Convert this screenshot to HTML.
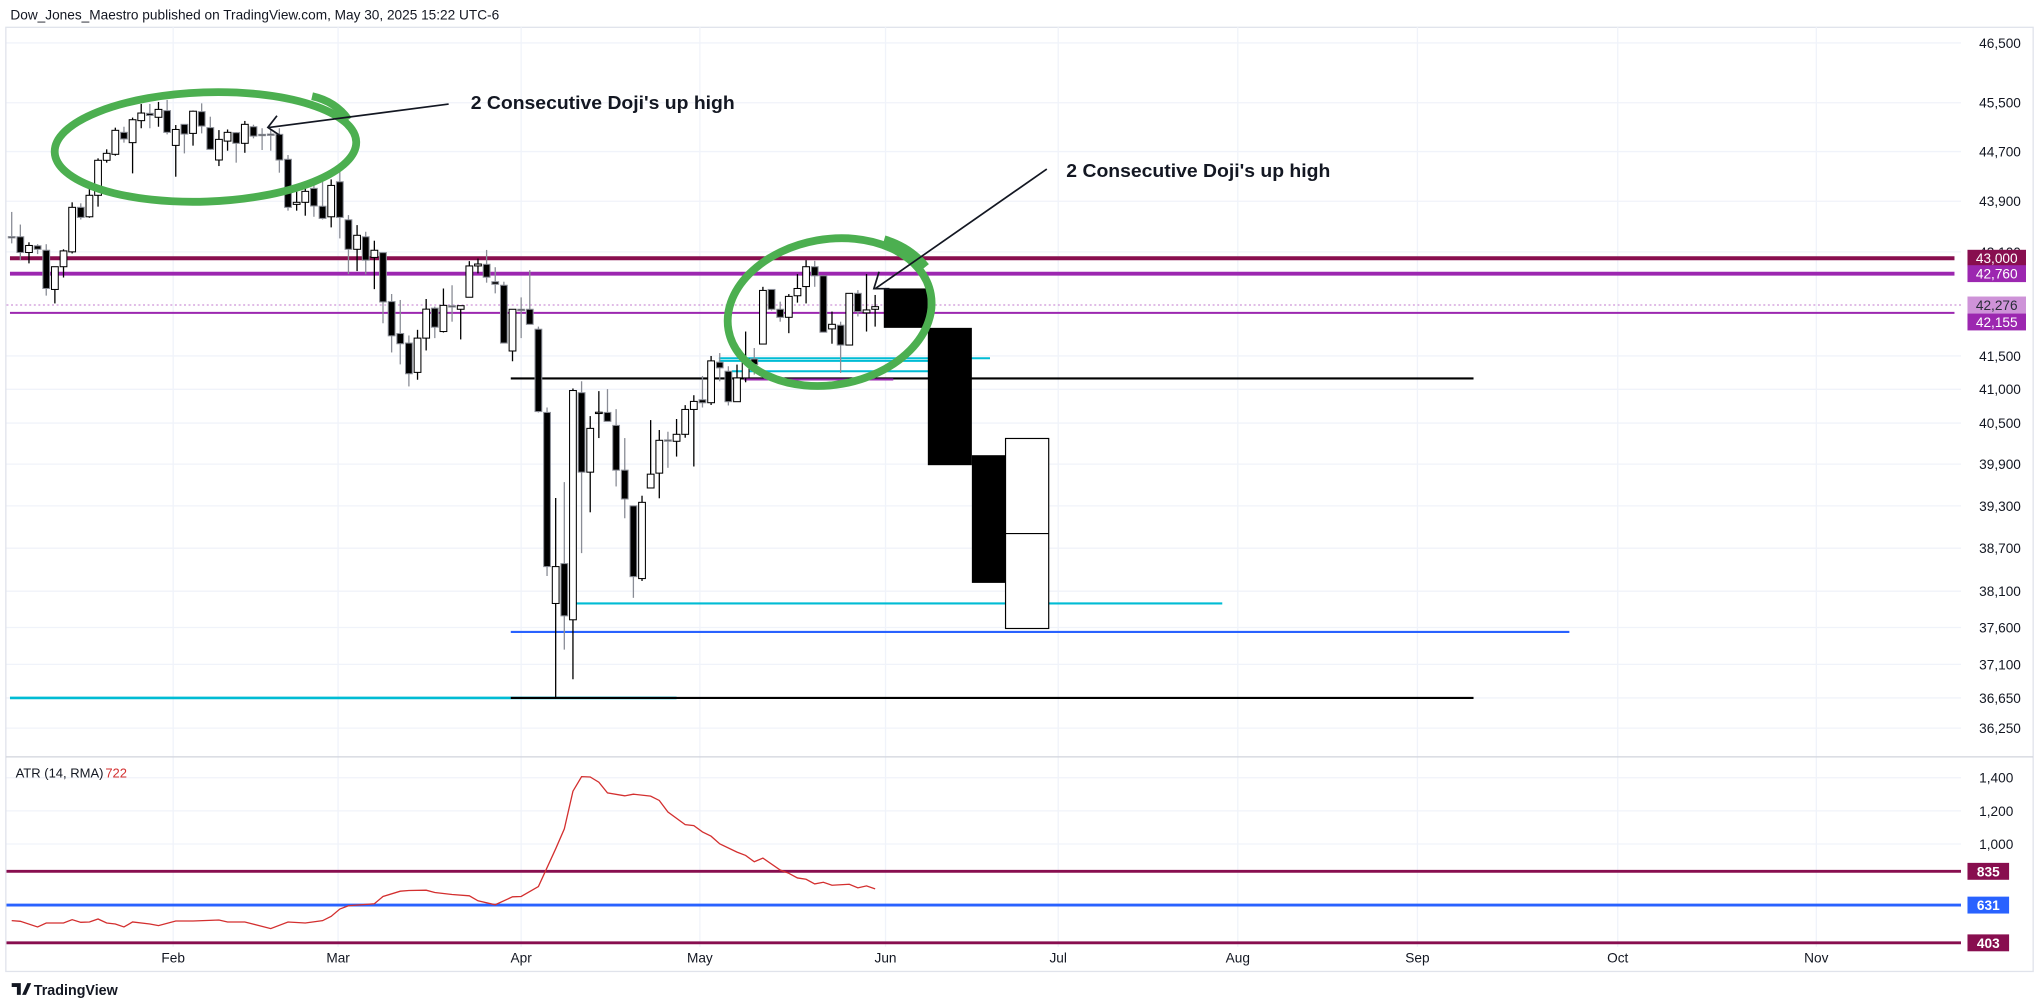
<!DOCTYPE html>
<html><head><meta charset="utf-8"><style>
html,body{margin:0;padding:0;background:#fff;}
svg{display:block;font-family:"Liberation Sans",sans-serif;}
</style></head><body>
<svg id="chart" width="2039" height="1008" viewBox="0 0 1568 775.1" preserveAspectRatio="none" xmlns="http://www.w3.org/2000/svg">
<text x="8" y="15" font-size="10.5" fill="#131722">Dow_Jones_Maestro published on TradingView.com, May 30, 2025 15:22 UTC-6</text>
<rect x="4.5" y="21" width="1559" height="726" fill="none" stroke="#e0e3eb" stroke-width="1"/>
<g id="grid"></g>
<g id="levels"></g>
<g id="candles"></g>
<g id="proj"></g>
<g id="atr"></g>
<g id="axes"></g>
<g fill="none">
<ellipse cx="158" cy="113" rx="116" ry="42" transform="rotate(-2 158 113)" stroke="#4caf50" stroke-width="6"/>
<path d="M240 74 Q258 78 268 92" stroke="#4caf50" stroke-width="6"/>
<ellipse cx="638" cy="240" rx="79" ry="56" transform="rotate(-10 638 240)" stroke="#4caf50" stroke-width="6"/>
<path d="M680 184 Q700 190 712 205" stroke="#4caf50" stroke-width="6"/>
<line x1="345" y1="80" x2="207" y2="98" stroke="#131722" stroke-width="1.3"/>
<path d="M213 89 L206 98 L215 104" stroke="#131722" stroke-width="1.3"/>
<line x1="805" y1="130" x2="673" y2="222" stroke="#131722" stroke-width="1.3"/>
<path d="M676 209 L672 222 L684 222" stroke="#131722" stroke-width="1.3"/>
</g>
<text x="362" y="84" font-size="14.5" font-weight="bold" fill="#131722" textLength="203" lengthAdjust="spacingAndGlyphs">2 Consecutive Doji's up high</text>
<text x="820" y="136" font-size="14.5" font-weight="bold" fill="#131722" textLength="203" lengthAdjust="spacingAndGlyphs">2 Consecutive Doji's up high</text>
<g>
<path d="M9 756 h7 v9 h-3 v-6 h-4z M17 765 l4 -9 h3 l-4 9z" fill="#131722"/>
<text x="26" y="765" font-size="11" font-weight="bold" fill="#131722">TradingView</text>
</g>
</svg>
<script>
const opens=[43340,43337,43090,43195,43125,42515,42868,43100,43803,43653,43995,44558,44655,45013,44845,45205,45325,45260,45370,44800,45144,44996,45353,45090,44563,44870,45008,44834,45105,44980,44985,44980,44574,43850,43883,44106,43820,43653,44212,43605,43140,43337,43013,43088,42328,41840,41695,41253,41770,42227,41870,42265,42210,42395,42880,42905,42635,42580,41575,42210,42210,41905,40657,37930,38484,37706,40950,39784,40655,40657,40466,39813,39300,38275,39556,39770,40253,40233,40335,40701,40845,40801,41406,41270,40816,41170,41455,41680,42515,42210,42087,42418,42560,42868,42727,41910,41966,41665,42455,42155,42210];
const highs=[43730,43530,43250,43220,43220,42868,43140,43883,43867,44186,44590,44736,45090,45105,45255,45480,45480,45513,45546,45133,45144,45370,45490,45270,45050,45060,45018,45200,45138,45080,45060,45080,44644,44132,44160,44250,44280,44250,44455,43680,43521,43416,43275,43088,42445,42353,41810,41896,42368,42252,42530,42580,42265,42955,42995,43130,42860,42635,42210,42393,42815,41945,40730,39412,39640,41012,41120,40603,40973,41003,40706,40280,39300,39445,40544,40398,40373,40560,40765,40912,41200,41500,41544,41345,41370,41870,41620,42556,42515,42327,42444,42753,42970,42960,42727,42175,42020,42455,42505,42753,42430];
const lows=[43233,42970,42920,43065,42420,42300,42700,43075,43610,43637,43814,44520,44633,44845,44347,45080,45080,45105,44980,44293,44670,44796,44996,44725,44465,44714,44520,44680,44915,44725,44714,44358,43750,43750,43670,43653,43610,43485,43311,42754,42800,42750,42520,41996,41553,41373,41043,41143,41583,41770,41855,42020,41750,42395,42765,42620,42455,41695,41420,41770,41980,40655,38310,36663,37300,36900,38631,39208,40280,40525,39578,39123,38008,38242,39556,39408,39847,40010,40285,39866,40730,40767,41120,40760,40816,41105,41220,41680,42190,42020,41845,42312,42300,42556,41860,41685,41245,41665,42100,41870,41945];
const closes=[43330,43090,43200,43140,42530,42868,43115,43803,43643,43995,44558,44671,45046,44905,45220,45330,45290,45390,45013,45060,44985,45360,45116,44736,44898,45013,44834,45144,44952,44975,44980,44563,43803,43883,44058,43825,43627,44153,43643,43140,43360,42970,43125,42323,41805,41685,41233,41770,42212,41936,42270,42260,42265,42880,42910,42705,42595,41695,42210,42205,41980,40670,38442,38442,37760,40982,39784,40422,40660,40525,39813,39398,38302,39350,39755,40247,40248,40335,40701,40820,40800,41426,41321,40816,41170,41455,41370,42500,42210,42087,42408,42530,42868,42727,41860,41980,41665,42455,42175,42200,42250];
const priceTicks=[46500,45500,44700,43900,43100,41500,41000,40500,39900,39300,38700,38100,37600,37100,36650,36250];
const priceTickLabels=["46,500","45,500","44,700","43,900","43,100","41,500","41,000","40,500","39,900","39,300","38,700","38,100","37,600","37,100","36,650","36,250"];
const monthLabels=["Feb","Mar","Apr","May","Jun","Jul","Aug","Sep","Oct","Nov"];
const monthBars=[18.7,37.8,59.0,79.7,101.2,121.2,142.0,162.8,186.0,209.0];
const projStart=[101.0,106.1,111.2,115.1];
const projEnd=[106.1,111.2,115.1,120.1];
const projTop=[42531,41926,40030,40274];
const projBottom=[41926,39885,38215,37587];
const projMid=[null,null,null,38906];
const projFill=["#000","#000","#000","#fff"];
const levelPrices=[43000,42760,42155,41162,36650,36650,37540,37931,41465,41426,41270,41146];
const levelFrom=[-0.2,-0.2,-0.2,57.8,-0.2,57.8,57.8,65.4,81.9,81.9,83.4,84.8];
const levelTo=[225,225,225,169.3,77,169.3,180.4,140.2,113.3,106.2,106.2,102.1];
const levelColors=["#880e4f","#9c27b0","#9c27b0","#000","#00bcd4","#000","#2962ff","#00bcd4","#00bcd4","#00bcd4","#00bcd4","#9c27b0"];
const levelWidths=[3,3,1.6,1.6,2,1.6,1.6,1.6,1.5,1.5,1.5,1.5];
const priceLabels=["43,000","42,760","42,276","42,155"];
const priceLabelValues=[43000,42760,42276,42155];
const priceLabelColors=["#880e4f","#9c27b0","#ce93d8","#9c27b0"];
const priceLabelShift=[0,0,0,7];
const lastPrice=42276;
const atrBars=[0,1,3,4,6,7,8,9,10,11,12,13,14,16,17,19,21,24,25,27,30,32,34,36,37,38,39,42,43,45,46,48,49,51,53,54,56,58,59,61,63,64,65,66,67,68,69,71,72,74,75,76,78,79,80,81,82,84,85,86,87,89,90,91,92,93,94,95,97,98,99,100];
const atrValues=[537,533,499,523,523,543,527,529,547,523,517,499,529,517,507,535,535,541,529,529,489,529,523,537,563,607,627,639,683,715,719,721,707,695,687,657,633,681,683,743,971,1091,1319,1407,1405,1373,1309,1291,1301,1289,1263,1193,1117,1111,1073,1047,1001,951,931,893,915,843,823,795,787,759,769,751,757,735,747,729];
const atrTicks=[1400,1200,1000];
const atrLevels=[835,631,403];
const atrLevelColors=["#880e4f","#2962ff","#880e4f"];

const NS="http://www.w3.org/2000/svg";
const X0=9,BAR=6.64,PLOT_R=1508;
function xOf(i){return X0+i*BAR;}
function yOf(p){return 33+2116*Math.log(46500/p);}
function yAtr(v){return 670-(v-835)*0.1273;}
function mk(tag,attrs,parent){const e=document.createElementNS(NS,tag);for(const k in attrs)e.setAttribute(k,attrs[k]);parent.appendChild(e);return e;}
const grid=document.getElementById('grid'),levels=document.getElementById('levels'),cg=document.getElementById('candles'),pg=document.getElementById('proj'),ag=document.getElementById('atr'),axes=document.getElementById('axes');

priceTicks.forEach((p,i)=>{
  const y=yOf(p);
  const l=mk('line',{x1:5,x2:PLOT_R,y1:y,y2:y,stroke:'#f0f3fa','stroke-width':1},grid);
  
  
  const t=mk('text',{x:1522,y:y+3.8,'font-size':10.5,fill:'#131722'},axes);
  t.textContent=priceTickLabels[i];
  
  
});
atrTicks.forEach(v=>{
  const y=yAtr(v);
  const l=mk('line',{x1:5,x2:PLOT_R,y1:y,y2:y,stroke:'#f0f3fa','stroke-width':1},grid);
  
  
  const t=mk('text',{x:1522,y:y+3.8,'font-size':10.5,fill:'#131722'},axes);
  t.textContent=v.toLocaleString('en-US');
  
  
});
monthBars.forEach((b,i)=>{
  const x=xOf(b);
  const l=mk('line',{x1:x,x2:x,y1:21,y2:728,stroke:'#f0f3fa','stroke-width':1},grid);
  
  
  const t=mk('text',{x:x,y:740,'font-size':10.5,fill:'#131722','text-anchor':'middle'},axes);
  t.textContent=monthLabels[i];
  
  
});
const sep=mk('line',{x1:4.5,x2:1563.5,y1:582,y2:582,stroke:'#d1d4dc','stroke-width':1},axes);



const dl=mk('line',{x1:5,x2:PLOT_R,y1:yOf(lastPrice),y2:yOf(lastPrice),stroke:'#ce93d8','stroke-width':1,'stroke-dasharray':'1.5 2'},levels);


levelPrices.forEach((p,i)=>{
  const y=yOf(p);
  const l=mk('line',{x1:Math.max(5,xOf(levelFrom[i])),x2:Math.min(PLOT_R,xOf(levelTo[i])),y1:y,y2:y,stroke:levelColors[i],'stroke-width':levelWidths[i]},levels);
  
  
});

opens.forEach((o,i)=>{
  const c=closes[i],h=highs[i],lo=lows[i],x=xOf(i),up=c>=o;
  const wc=up?'#000':'#8a8d96';
  const w=mk('line',{x1:x,x2:x,y1:yOf(h),y2:yOf(lo),stroke:wc,'stroke-width':1},cg);
  
  
  const top=yOf(Math.max(o,c)),bot=yOf(Math.min(o,c));
  const r=mk('rect',{x:x-2.6,y:top,width:5.2,height:Math.max(1,bot-top),fill:up?'#fff':'#000',stroke:up?'#000':'#8a8d96','stroke-width':0.8},cg);
  
  
});

projStart.forEach((s,i)=>{
  const x1=xOf(s),x2=xOf(projEnd[i]),y1=yOf(projTop[i]),y2=yOf(projBottom[i]);
  const r=mk('rect',{x:x1,y:y1,width:x2-x1,height:y2-y1,fill:projFill[i],stroke:'#000','stroke-width':projFill[i]==='#fff'?0.9:0},pg);
  
  
  if(projMid[i]!==null){
    const m=mk('line',{x1:x1,x2:x2,y1:yOf(projMid[i]),y2:yOf(projMid[i]),stroke:'#000','stroke-width':0.9},pg);
    
    
  }
});

atrLevels.forEach((v,i)=>{
  const y=yAtr(v);
  const l=mk('line',{x1:5,x2:PLOT_R,y1:y,y2:y,stroke:atrLevelColors[i],'stroke-width':2.2},ag);
  
  
  const r=mk('rect',{x:1513,y:y-6.5,width:32,height:13,fill:atrLevelColors[i]},ag);
  
  
  const t=mk('text',{x:1529,y:y+3.8,'font-size':10.5,fill:'#fff','text-anchor':'middle','font-weight':'bold'},ag);
  t.textContent=String(v);
  
  
});
const pts=atrBars.map((b,i)=>xOf(b).toFixed(2)+','+yAtr(atrValues[i]).toFixed(2)).join(' ');
const pl=mk('polyline',{points:pts,fill:'none',stroke:'#d32f2f','stroke-width':1},ag);


const at=mk('text',{x:12,y:598,'font-size':10,fill:'#131722'},ag);
at.textContent='ATR (14, RMA)';


const av=mk('text',{x:81,y:598,'font-size':10,fill:'#d32f2f'},ag);
av.textContent='722';



priceLabels.forEach((s,i)=>{
  const y=yOf(priceLabelValues[i])+priceLabelShift[i];
  const r=mk('rect',{x:1513,y:y-6.5,width:45,height:13,fill:priceLabelColors[i]},axes);
  
  
  const t=mk('text',{x:1535.5,y:y+3.8,'font-size':10.5,fill:i===2?'#2a2e39':'#fff','text-anchor':'middle'},axes);
  t.textContent=s;
  
  
});
</script>
</body></html>
